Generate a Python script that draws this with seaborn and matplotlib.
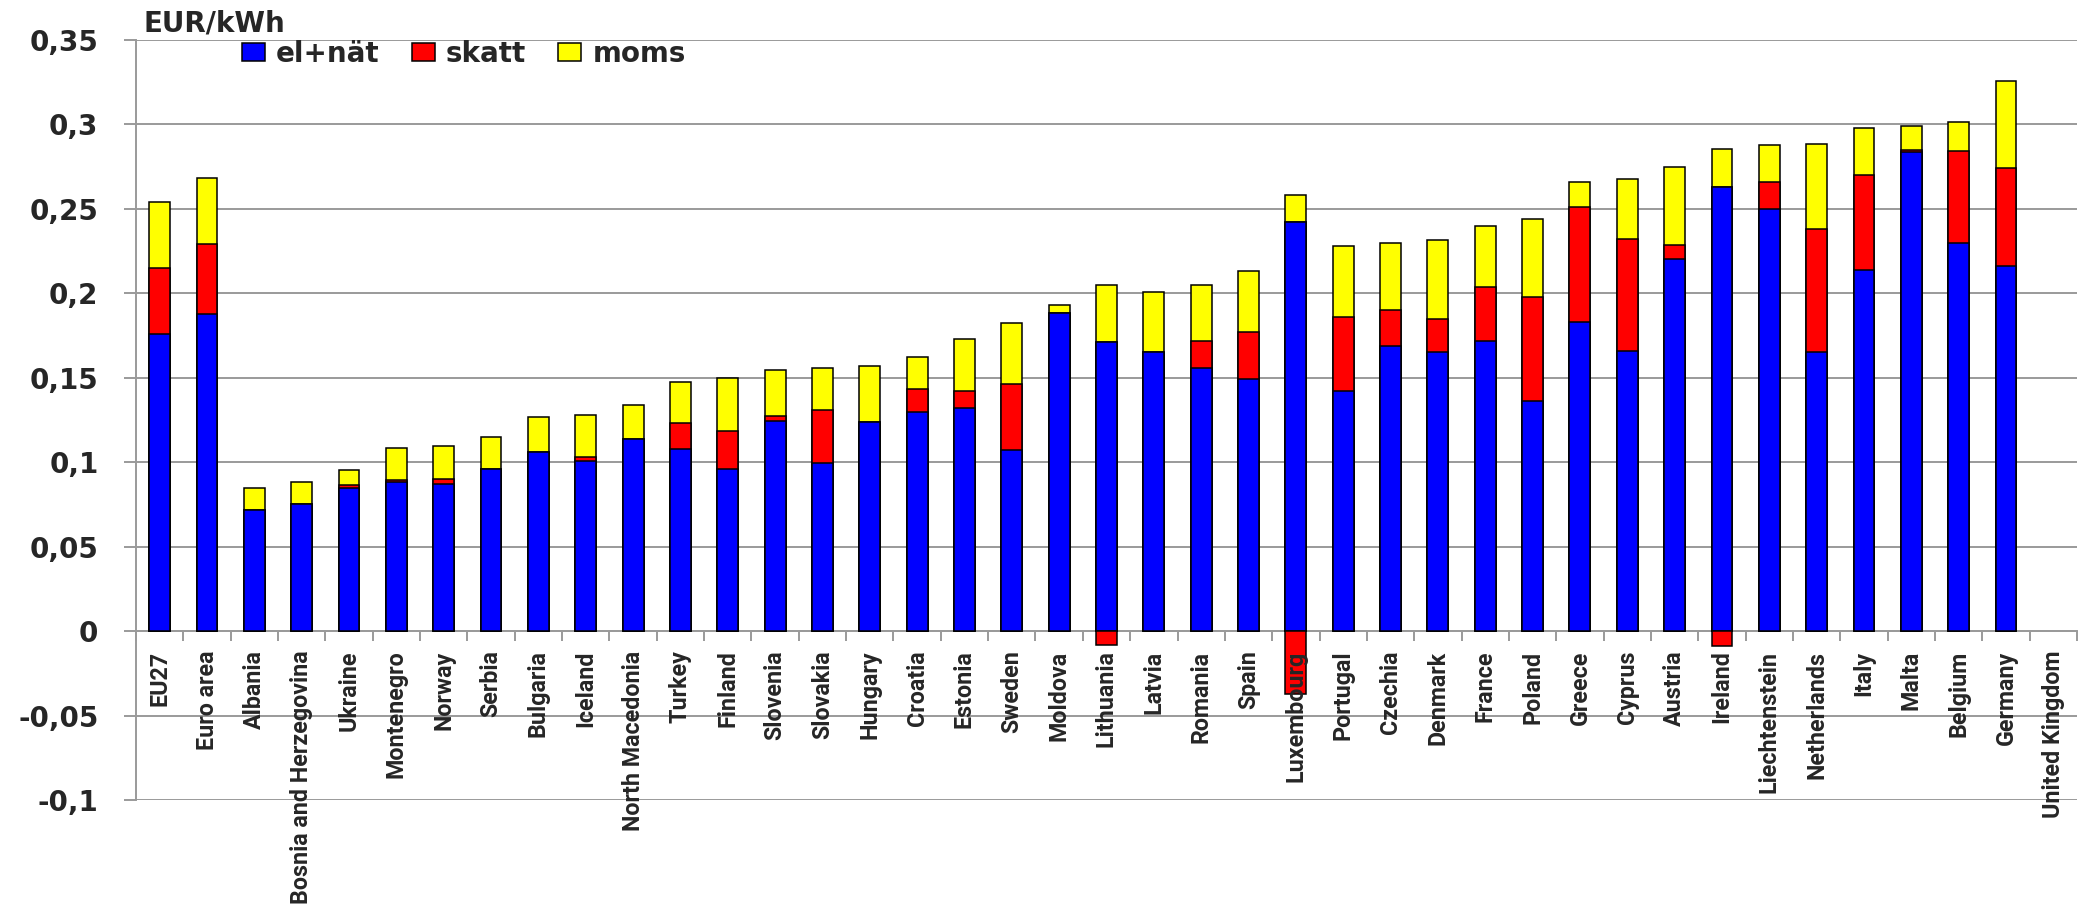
import numpy as np
import pandas as pd
import matplotlib
matplotlib.use("Agg")
import matplotlib.pyplot as plt
import seaborn as sns
from matplotlib.patches import Patch

# data (EUR/kWh)
countries = ["EU27", "Euro area", "Albania", "Bosnia and Herzegovina", "Ukraine",
             "Montenegro", "Norway", "Serbia", "Bulgaria", "Iceland",
             "North Macedonia", "Turkey", "Finland", "Slovenia", "Slovakia",
             "Hungary", "Croatia", "Estonia", "Sweden", "Moldova", "Lithuania",
             "Latvia", "Romania", "Spain", "Luxembourg", "Portugal", "Czechia",
             "Denmark", "France", "Poland", "Greece", "Cyprus", "Austria",
             "Ireland", "Liechtenstein", "Netherlands", "Italy", "Malta",
             "Belgium", "Germany", "United Kingdom"]
el_nat = [0.176, 0.1875, 0.072, 0.075, 0.085, 0.088, 0.087, 0.096, 0.106, 0.101,
          0.114, 0.108, 0.096, 0.1245, 0.0994, 0.124, 0.130, 0.132, 0.107, 0.1885,
          0.171, 0.1655, 0.156, 0.149, 0.242, 0.142, 0.169, 0.165, 0.172, 0.136,
          0.183, 0.166, 0.2205, 0.263, 0.250, 0.165, 0.214, 0.2835, 0.230, 0.216,
          np.nan]
skatt = [0.039, 0.042, 0.0, 0.0005, 0.0015, 0.0016, 0.0028, 0.0, 0.0, 0.0023,
         0.0, 0.015, 0.0226, 0.0028, 0.0316, 0.0, 0.0133, 0.010, 0.0396, 0.0,
         -0.008, 0.0, 0.016, 0.028, -0.037, 0.044, 0.021, 0.020, 0.032, 0.062,
         0.068, 0.066, 0.0083, -0.009, 0.016, 0.073, 0.056, 0.0012, 0.054, 0.058,
         np.nan]
moms = [0.039, 0.0385, 0.013, 0.013, 0.0087, 0.0186, 0.020, 0.019, 0.021, 0.0247,
        0.020, 0.0245, 0.031, 0.0273, 0.0248, 0.033, 0.0188, 0.031, 0.036, 0.0048,
        0.034, 0.0355, 0.033, 0.036, 0.016, 0.042, 0.040, 0.0466, 0.036, 0.046,
        0.015, 0.0355, 0.046, 0.0227, 0.022, 0.0505, 0.0276, 0.0142, 0.0175, 0.052,
        np.nan]
series_names = ["el+nät", "skatt", "moms"]
series_colors = ["#0000FF", "#FF0000", "#FFFF00"]
y_ticks = [-0.1, -0.05, 0, 0.05, 0.1, 0.15, 0.2, 0.25, 0.3, 0.35]
y_tick_labels = ["-0,1", "-0,05", "0", "0,05", "0,1", "0,15", "0,2", "0,25", "0,3", "0,35"]
unit_label = "EUR/kWh"

sns.set_style("white")
plt.rcParams["font.family"] = ["DejaVu Sans"]
plt.rcParams["font.weight"] = "bold"

df = pd.DataFrame({"land": countries, "el": el_nat, "skatt": skatt, "moms": moms})
df = df.dropna()
df["skatt_pos"] = df["skatt"].clip(lower=0)
df["red_top"] = df["el"] + df["skatt_pos"]
df["total"] = df["red_top"] + df["moms"]
neg = df[df["skatt"] < 0]

fig = plt.figure(figsize=(20.78, 9.10), dpi=100)
ax = fig.add_axes([136 / 2078, 1 - 800 / 910, (2077 - 136) / 2078, 760 / 910])

bar_kw = dict(x="land", order=countries, saturation=1, width=0.44,
              edgecolor="black", linewidth=1.1, errorbar=None, ax=ax)
# overlaid cumulative bars give the stacked look
sns.barplot(data=df, y="total", color=series_colors[2], **bar_kw)
sns.barplot(data=df, y="red_top", color=series_colors[1], **bar_kw)
sns.barplot(data=df, y="el", color=series_colors[0], **bar_kw)
sns.barplot(data=neg, y="skatt", color=series_colors[1], **bar_kw)

ax.set_xlabel("")
ax.set_ylabel("")
ax.set_xlim(-0.5, len(countries) - 0.5)
ax.set_ylim(-0.1, 0.35)

grid_c = "#9a9a9a"
ax.set_axisbelow(True)
ax.yaxis.grid(True, color=grid_c, linewidth=1.4)
ax.xaxis.grid(False)
for s in ["top", "right"]:
    ax.spines[s].set_visible(False)
ax.spines["left"].set_color(grid_c)
ax.spines["left"].set_linewidth(1.4)
ax.spines["bottom"].set_position(("data", 0))
ax.spines["bottom"].set_color(grid_c)
ax.spines["bottom"].set_linewidth(1.4)
ax.spines["bottom"].set_zorder(0.6)
# category labels sit on top of the bars (Luxembourg overlaps its bar)
ax.xaxis.set_zorder(3)

ax.set_yticks(y_ticks)
ax.set_yticklabels(y_tick_labels, fontsize=20, fontweight="bold")
ax.tick_params(axis="y", length=9, width=1.4, color=grid_c, pad=18, left=True)

ax.set_xticks(range(len(countries)))
xlabels = ax.set_xticklabels(countries, rotation=90, fontsize=16, fontweight="bold",
                             family=["Roboto", "DejaVu Sans"])
ax.set_xticks(np.arange(-0.5, len(countries), 1), minor=True)
ax.tick_params(axis="x", which="major", length=0, pad=14, bottom=True)
ax.tick_params(axis="x", which="minor", length=7, width=1.4, color=grid_c, bottom=True)

# size the category labels so the longest one is as long as in the original
fig.canvas.draw()
rend = fig.canvas.get_renderer()
longest = xlabels[countries.index("Bosnia and Herzegovina")]
h = longest.get_window_extent(rend).height
for t in xlabels:
    t.set_fontsize(16 * 254 / h)

fig.text(143 / 2078, 1 - 32 / 910, unit_label, fontsize=20, fontweight="bold",
         ha="left", va="baseline")

handles = [Patch(facecolor=c, edgecolor="black", linewidth=1.1) for c in series_colors]
fig.legend(handles, series_names, loc="center left", ncol=3, frameon=False,
           bbox_to_anchor=(242 / 2078, 1 - 54 / 910), fontsize=20,
           handlelength=0.83, handleheight=0.62, handletextpad=0.4,
           columnspacing=1.15, borderaxespad=0, borderpad=0)

fig.savefig("out.png", dpi=100)
